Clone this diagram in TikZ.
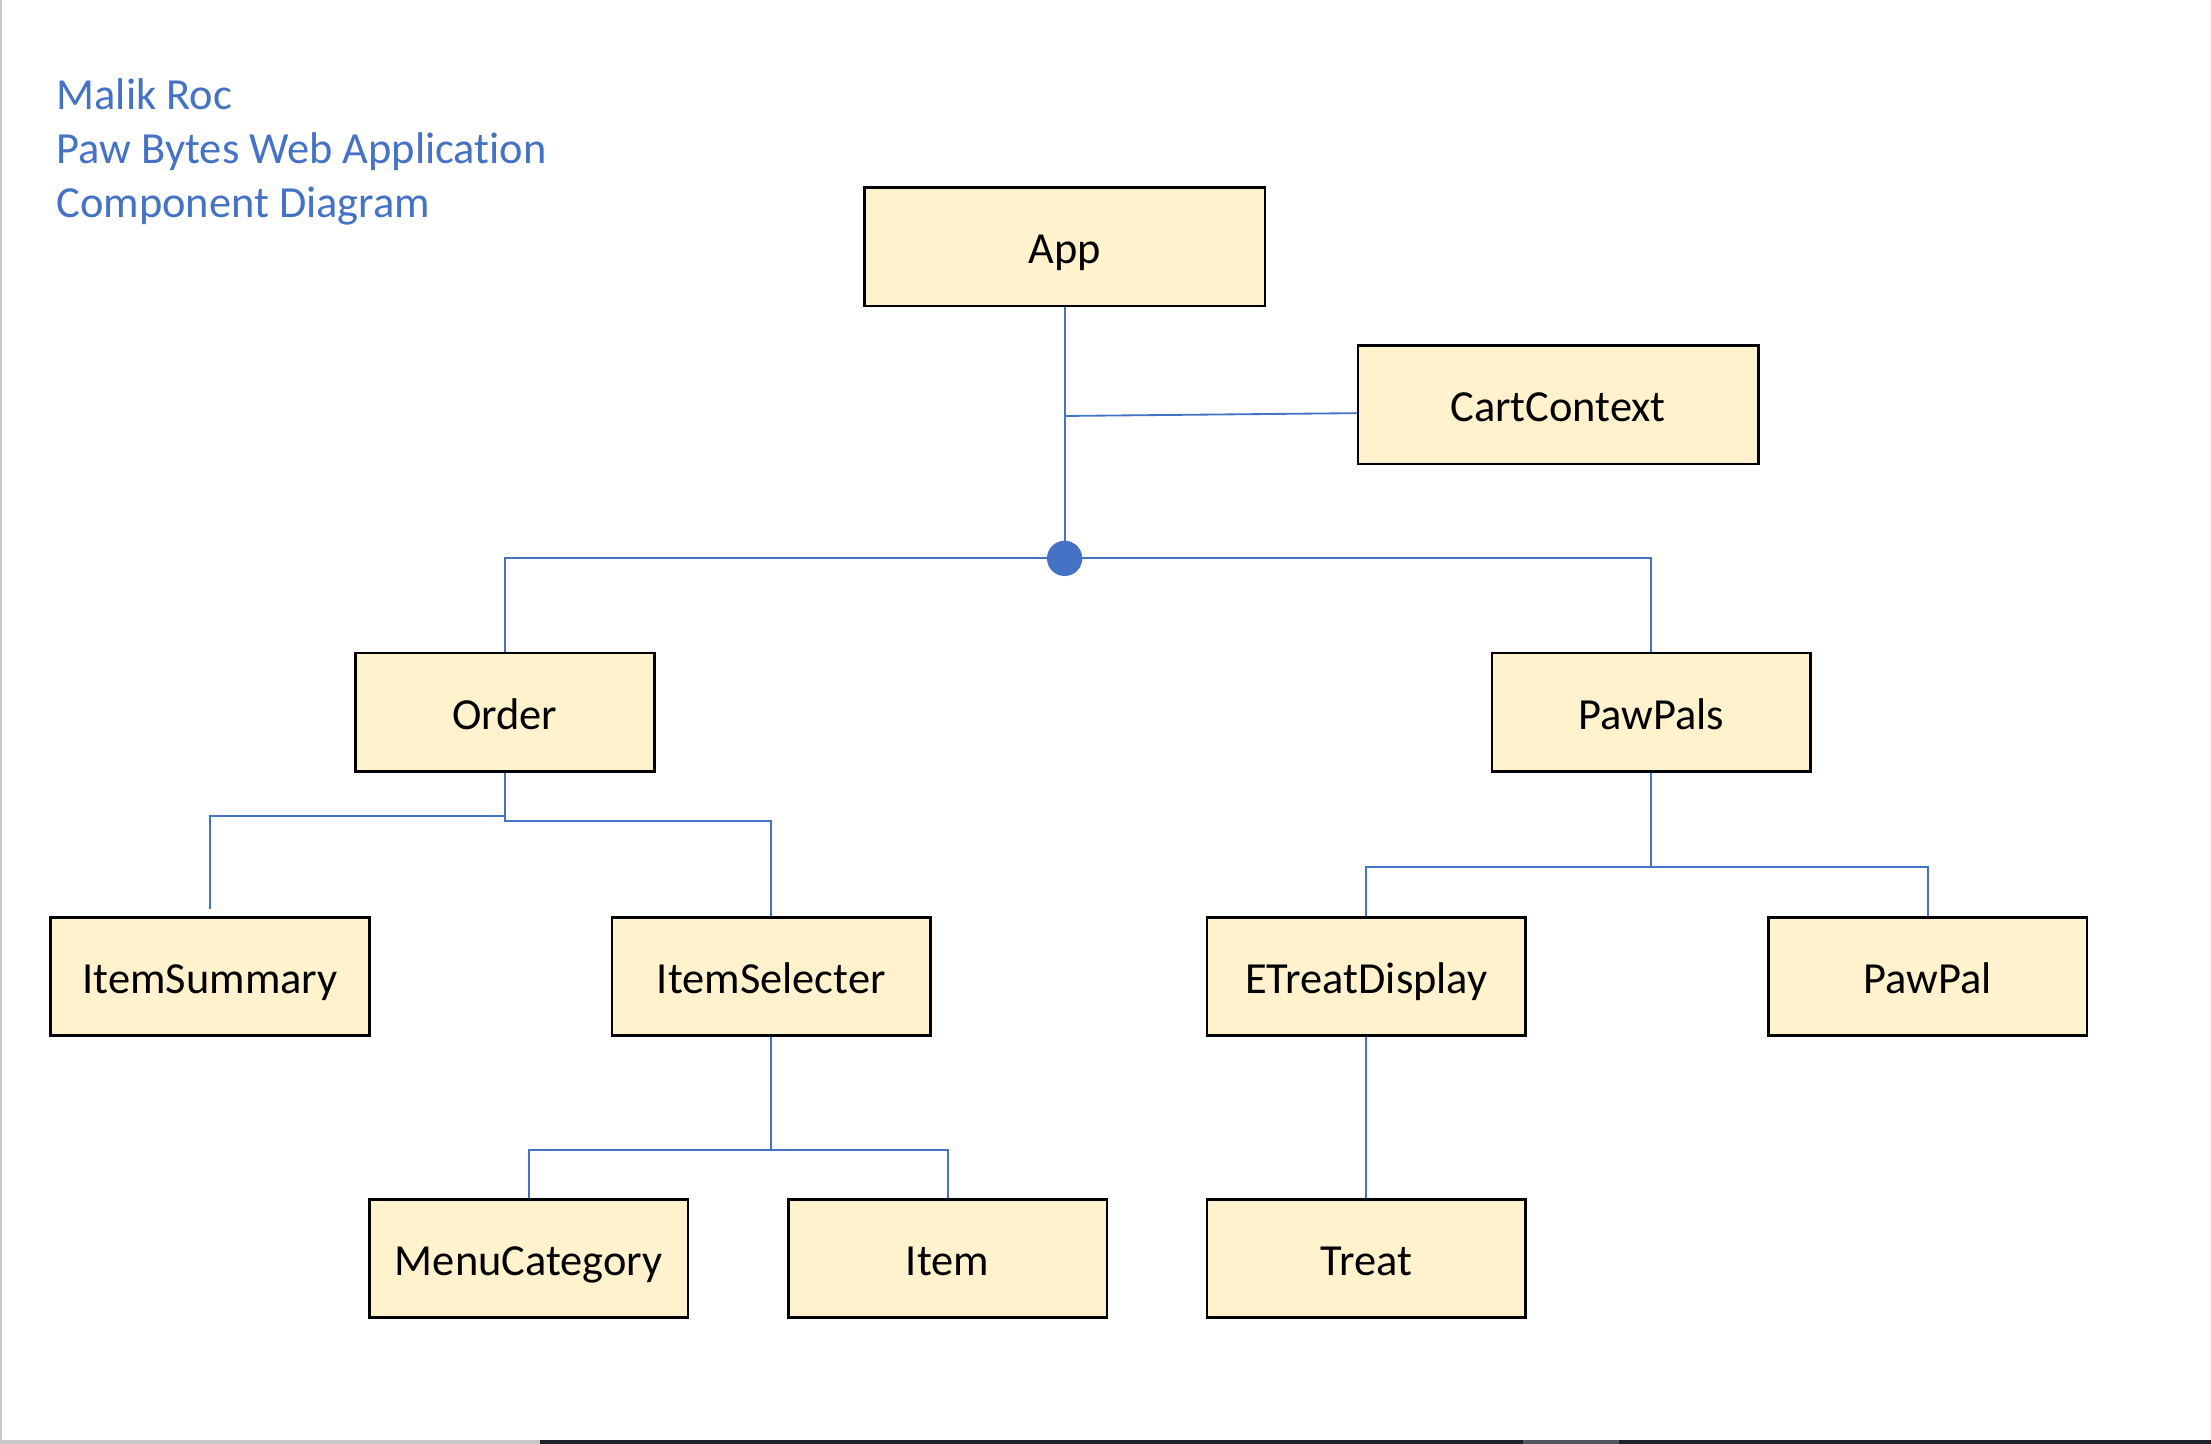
\documentclass[tikz,border=0pt]{standalone}
\usepackage{fontspec}
\setmainfont{Carlito}[Ligatures={NoCommon},RawFeature={-liga;-clig;-dlig;-calt}]
\definecolor{accent}{HTML}{4472C4}
\definecolor{boxfill}{HTML}{FFF2CC}
\definecolor{barlight}{HTML}{C8C8C8}
\definecolor{bardark}{HTML}{20202E}
\definecolor{barmid}{HTML}{55555F}
\begin{document}
\begin{tikzpicture}[x=1pt,y=-1pt,
  comp/.style={draw=black,line width=1.9pt,fill=boxfill,minimum height=84pt,inner sep=0pt,
    text height=27pt,text depth=3pt,font=\fontsize{31.5}{38}\selectfont},
  link/.style={draw=accent,line width=1.3pt},
  titletext/.style={anchor=base west,text=accent,inner sep=0pt,font=\fontsize{31.5}{38}\selectfont}]
\useasboundingbox (0,0) rectangle (1568,1024);
\fill[white] (0,0) rectangle (1568,1024);
% page edges
\fill[barlight] (0,0) rectangle (1.5,1021);
\fill[barlight] (0,1021) rectangle (383,1024);
\fill[bardark] (383,1021) rectangle (1568,1024);
\fill[barmid] (1080,1021) rectangle (1148,1024);
% title
\node[titletext] (t1) at (40,78) {Malik Roc};
\node[titletext] (t2) at (40,116) {Paw Bytes Web Application};
\node[titletext] (t3) at (40,154) {Component Diagram};
% components
\node[comp,minimum width=284pt] (App) at (755,175) {App};
\node[comp,minimum width=284pt] (CartContext) at (1105,287) {CartContext};
\node[comp,minimum width=212pt] (Order) at (358,505) {Order};
\node[comp,minimum width=226pt] (PawPals) at (1171,505) {PawPals};
\node[comp,minimum width=226pt] (ItemSummary) at (149,692.5) {ItemSummary};
\node[comp,minimum width=226pt] (ItemSelecter) at (547,692.5) {ItemSelecter};
\node[comp,minimum width=226pt] (ETreatDisplay) at (969,692.5) {ETreatDisplay};
\node[comp,minimum width=226pt] (PawPal) at (1367,692.5) {PawPal};
\node[comp,minimum width=226pt] (MenuCategory) at (375,892.5) {MenuCategory};
\node[comp,minimum width=226pt] (Item) at (672,892.5) {Item};
\node[comp,minimum width=226pt] (Treat) at (969,892.5) {Treat};
% hub
\coordinate (hub) at (755,396);
\coordinate (cj) at (755,295);
% connectors
\draw[link] (App.south) -- (hub);
\draw[link] (cj) -- ([yshift=-6pt]CartContext.west);
\draw[link] (hub) -| (Order.north);
\draw[link] (hub) -| (PawPals.north);
\draw[link] (Order.south) -- ++(0,31) -| ([yshift=5pt]ItemSummary.north);
\draw[link] (Order.south) -- ++(0,34) -| (ItemSelecter.north);
\draw[link] (ItemSelecter.south) -- ++(0,80) -| (MenuCategory.north);
\draw[link] (ItemSelecter.south) -- ++(0,80) -| (Item.north);
\draw[link] (PawPals.south) -- ++(0,67) -| (ETreatDisplay.north);
\draw[link] (PawPals.south) -- ++(0,67) -| (PawPal.north);
\draw[link] (ETreatDisplay.south) -- (Treat.north);
\fill[accent] (hub) circle (12.5pt);
\end{tikzpicture}
\end{document}
